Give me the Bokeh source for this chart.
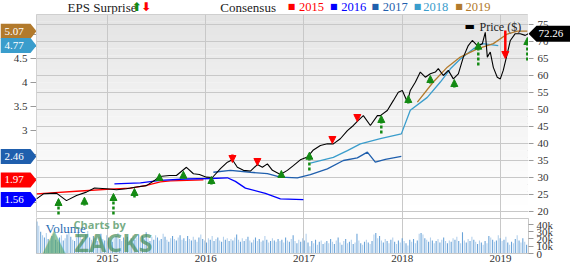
import pandas as pd
from bokeh.plotting import figure
from bokeh.models import (Range1d, FixedTicker, Label, Arrow, NormalHead,
                          ColumnDataSource, BoxAnnotation)
from bokeh.layouts import column, row
from bokeh.core.properties import value
from bokeh.embed import file_html
from bokeh.resources import INLINE

SERIF = "Liberation Serif"

# ---------------- data ----------------
years = [2015, 2016, 2017, 2018, 2019]
price_ticks = [20, 25, 30, 35, 40, 45, 50, 55, 60, 65, 70, 75]
eps_ticks = [1.5, 2, 2.5, 3, 3.5, 4, 4.5, 5]
eps_tick_labels = ["1.5", "2", "2.5", "3", "3.5", "4", "4.5", "5"]
vol_ticks = [0, 10, 20, 30, 40]

price_t = [2014.278, 2014.349, 2014.481, 2014.583, 2014.685, 2014.786, 2014.868, 2014.990,
           2015.092, 2015.193, 2015.295, 2015.397, 2015.478, 2015.529, 2015.631, 2015.702,
           2015.804, 2015.875, 2015.936, 2016.007, 2016.068, 2016.150, 2016.221, 2016.272,
           2016.322, 2016.384, 2016.455, 2016.526, 2016.577, 2016.628, 2016.679, 2016.760,
           2016.831, 2016.892, 2016.963, 2017.035, 2017.096, 2017.167, 2017.238, 2017.299,
           2017.370, 2017.442, 2017.503, 2017.553, 2017.604, 2017.676, 2017.747, 2017.777,
           2017.848, 2017.909, 2017.960, 2018.001, 2018.052, 2018.082, 2018.133, 2018.184,
           2018.235, 2018.286, 2018.337, 2018.367, 2018.418, 2018.469, 2018.520, 2018.571,
           2018.622, 2018.672, 2018.713, 2018.764, 2018.815, 2018.845, 2018.866, 2018.896,
           2018.927, 2018.967, 2018.998, 2019.028, 2019.069, 2019.100, 2019.150, 2019.201,
           2019.252, 2019.283]
price = [23.7, 25.2, 25.4, 23.2, 24.7, 25.7, 26.9, 26.7,
         26.4, 26.7, 27.2, 27.6, 29.1, 30.3, 30.6, 30.6,
         33.0, 31.1, 30.9, 30.1, 30.0, 32.6, 34.5, 35.2,
         33.0, 32.1, 31.9, 33.8, 33.0, 34.0, 32.1, 30.9,
         32.1, 33.5, 35.2, 36.0, 38.1, 39.4, 39.9, 39.9,
         41.4, 43.8, 45.3, 46.8, 48.2, 45.3, 48.2, 48.2,
         49.7, 52.6, 55.1, 55.6, 52.2, 55.6, 58.0, 61.0,
         59.5, 60.5, 61.0, 62.0, 60.0, 61.5, 59.0, 60.5,
         65.4, 68.8, 70.3, 68.8, 69.3, 72.7, 65.4, 66.9,
         62.4, 59.5, 59.0, 61.5, 66.4, 70.3, 72.3, 72.3,
         71.8, 72.26]

c2015_t = [2014.278, 2014.725, 2015.031, 2015.234, 2015.387, 2015.539, 2015.641, 2015.977]
c2015 = [1.68, 1.74, 1.78, 1.80, 1.85, 1.93, 1.95, 1.97]
c2016_t = [2015.071, 2015.336, 2015.539, 2015.793, 2016.048, 2016.221, 2016.302, 2016.404,
           2016.607, 2016.760, 2016.994]
c2016 = [1.89, 1.91, 1.96, 1.99, 2.00, 2.015, 1.94, 1.80, 1.69, 1.575, 1.56]
c2017_t = [2016.078, 2016.251, 2016.455, 2016.628, 2016.760, 2016.933, 2017.065, 2017.238,
           2017.401, 2017.543, 2017.645, 2017.726, 2017.828, 2017.991]
c2017 = [2.13, 2.17, 2.13, 2.10, 2.03, 2.015, 2.08, 2.20, 2.375, 2.43, 2.55, 2.34, 2.40, 2.46]
c2018_t = [2017.065, 2017.299, 2017.442, 2017.574, 2017.777, 2017.991, 2018.082, 2018.255,
           2018.388, 2018.490, 2018.591, 2018.723, 2018.815, 2018.896, 2018.977]
c2018 = [2.32, 2.44, 2.58, 2.72, 2.83, 2.93, 3.42, 3.69, 4.01, 4.285, 4.49, 4.70, 4.81, 4.79, 4.77]
c2019_t = [2018.154, 2018.316, 2018.459, 2018.591, 2018.764, 2018.927, 2019.069, 2019.171, 2019.273]
c2019 = [3.59, 4.01, 4.32, 4.53, 4.70, 4.81, 5.01, 5.07, 5.07]

tag_vals = [5.07, 4.77, 2.46, 1.97, 1.56]
last_price = 72.26

# EPS surprise arrows (price units)
up_t = [2014.502, 2014.766, 2015.061, 2015.275, 2015.529, 2015.773, 2016.058, 2016.770,
        2017.055, 2017.787, 2018.062, 2018.286, 2018.530, 2018.774, 2019.273]
up_head = [23.82, 24.21, 25.29, 26.76, 31.18, 31.85, 30.29, 32.06,
           37.44, 48.24, 54.12, 60.0, 58.82, 69.8, 71.18]
up_tail = [19.12, 21.76, 19.12, 24.12, 29.12, 30.0, 27.94, 30.0,
           32.06, 42.94, 51.76, 57.65, 56.47, 62.94, 64.41]
down_t = [2016.272, 2016.526, 2017.289, 2017.543, 2019.049]
down_top = [36.76, 35.59, 41.76, 48.53, 73.24]
down_tip = [34.41, 33.53, 40.0, 46.47, 65.0]

# weekly volume (thousands), from 2014-04-14
vol = [44, 38, 30, 25, 22, 28, 20, 18, 24, 27, 19, 16, 22, 25, 18, 21, 26, 30, 23, 19, 17, 22, 28, 24, 20, 18,
       26, 31, 22, 19, 24, 21, 17, 23, 27, 20, 18, 25, 22, 19, 16, 21, 24, 28, 20, 17, 22, 19, 23, 18, 21, 25,
       19, 22, 26, 18, 24, 20, 29, 21, 17, 23, 19, 25, 22, 18, 20, 27, 23, 19, 16, 21, 24, 20, 18, 22, 25, 19,
       21, 17, 24, 20, 18, 23, 19, 16, 22, 26, 20, 18, 15, 21, 19, 24, 17, 20, 22, 18, 16, 23, 19, 21, 17, 20,
       18, 22, 26, 19, 16, 21, 17, 20, 23, 18, 15, 19, 22, 17, 20, 16, 18, 24, 19, 15, 17, 21, 18, 16, 20, 17,
       19, 15, 22, 18, 16, 20, 25, 17, 14, 19, 16, 21, 18, 27, 15, 10, 17, 14, 19, 12, 16, 18, 13, 15, 17, 14,
       20, 16, 13, 18, 22, 15, 12, 17, 20, 14, 16, 19, 13, 15, 27, 18, 14, 12, 16, 19, 15, 13, 17, 26, 28, 21,
       24, 18, 15, 20, 17, 14, 19, 22, 16, 13, 18, 15, 21, 17, 14, 11, 19, 16, 20, 14, 18, 27, 28, 26, 21, 19,
       16, 22, 18, 14, 17, 20, 15, 19, 22, 17, 14, 18, 16, 21, 19, 23, 17, 14, 29, 18, 15, 20, 17, 23, 19, 16,
       13, 18, 15, 12, 17, 14, 24, 22, 19, 16, 18, 25, 21, 17, 19, 23, 15, 12, 16, 14, 20, 25, 18, 15, 21, 16,
       12, 14]

# ---------------- styling / layout constants ----------------
X0, X1 = 2014.278, 2019.285
PMIN, PMAX = 17.941, 77.941      # price scale: 5 units = 17 px
EMIN, EMAX = 1.1667, 5.4167      # EPS scale: 0.5 units = 24 px
GRID = "#c8c8c8"
TICK = "#999999"
LBL = "#333333"
GREEN = "#138a13"
RED = "#ff0000"
C15, C16, C17, C18, C19 = "#ff0000", "#0000ff", "#1f5fad", "#3a9dcc", "#b27a2c"
tag_colors = [C19, C18, C17, C15, C16]
LEFT_W, RIGHT_W, MAIN_W = 36, 42, 492
HDR_H, MAIN_H, VOL_H = 14, 204, 46


def bare(width, height, xr, yr):
    return figure(width=width, height=height, x_range=xr, y_range=yr,
                  x_axis_location=None, y_axis_location=None,
                  output_backend="svg", toolbar_location=None,
                  min_border_left=0, min_border_right=0, min_border_top=0, min_border_bottom=0,
                  background_fill_color="white", border_fill_color="white",
                  outline_line_color=None)


# ---------------- header ----------------
h = bare(570, HDR_H, Range1d(0, 570), Range1d(0, HDR_H))
h.grid.visible = False


def hl(text, px, color="#222222", font=SERIF, size="13px", style="normal", py=7.5):
    h.add_layout(Label(x=px, y=py, text=text, text_baseline="middle", text_align="left",
                       text_color=color, text_font=font, text_font_size=size,
                       text_font_style=style))


hl("EPS Surprise", 36)
hl("⬆", 110, GREEN, "DejaVu Sans", "12px", "bold")
hl("⬇", 121, RED, "DejaVu Sans", "12px", "bold")
hl("Consensus", 213)
for sq_px, yr_px, col, yr in zip([291, 340, 388, 437, 485], [304, 353, 401, 448, 497],
                                 [C15, C16, C17, C18, C19], years):
    hl("■", sq_px, col, "DejaVu Sans", "8px", py=8)
    hl(str(yr), yr_px, col, SERIF, "12.5px", py=8)

# ---------------- main price panel ----------------
p = bare(MAIN_W, MAIN_H, Range1d(X0, X1), Range1d(PMIN, PMAX))
p.outline_line_color = GRID
p.extra_y_ranges = {"eps": Range1d(EMIN, EMAX)}

nb = 30
for i in range(nb):
    lo = PMIN + (PMAX - PMIN) * i / nb
    hi = PMIN + (PMAX - PMIN) * (i + 1) / nb
    g = int(round(255 - 27 * (i / (nb - 1)) ** 1.2))
    p.add_layout(BoxAnnotation(bottom=lo, top=hi, fill_color=f"#{g:02x}{g:02x}{g:02x}",
                               fill_alpha=1, line_color=None, level="image"))

p.xgrid.ticker = FixedTicker(ticks=years)
p.ygrid.ticker = FixedTicker(ticks=price_ticks)
p.xgrid.grid_line_color = GRID
p.ygrid.grid_line_color = GRID

p.line(c2015_t, c2015, y_range_name="eps", line_color=C15, line_width=1.3)
p.line(c2016_t, c2016, y_range_name="eps", line_color=C16, line_width=1.3)
p.line(c2017_t, c2017, y_range_name="eps", line_color=C17, line_width=1.3)
p.line(c2018_t, c2018, y_range_name="eps", line_color=C18, line_width=1.3)
p.line(c2019_t, c2019, y_range_name="eps", line_color=C19, line_width=1.3)
p.line(price_t, price, line_color="black", line_width=1.1)

up_src = ColumnDataSource(dict(x=up_t, y0=up_tail, y1=up_head))
p.add_layout(Arrow(end=NormalHead(size=7, fill_color=GREEN, line_color=GREEN),
                   x_start="x", y_start="y0", x_end="x", y_end="y1", source=up_src,
                   line_color=GREEN, line_width=2.5, line_dash="3 2"))
dn_src = ColumnDataSource(dict(x=down_t, y0=down_top, y1=down_tip))
p.add_layout(Arrow(end=NormalHead(size=7, fill_color=RED, line_color=RED),
                   x_start="x", y_start="y0", x_end="x", y_end="y1", source=dn_src,
                   line_color=RED, line_width=2.5))

p.add_layout(Label(x=X0, y=PMAX, x_offset=428, y_offset=-12, text="▬",
                   text_baseline="middle", text_color="black", text_font="DejaVu Sans",
                   text_font_size="11px"))
p.add_layout(Label(x=X0, y=PMAX, x_offset=443, y_offset=-12, text="Price ($)",
                   text_baseline="middle", text_color="#222222", text_font=SERIF,
                   text_font_size="12px"))

# ---------------- left EPS scale with consensus tags ----------------
lf = bare(LEFT_W, MAIN_H, Range1d(0, LEFT_W), Range1d(EMIN, EMAX))
lf.grid.visible = False
lf.segment(x0=30, y0=eps_ticks, x1=36, y1=eps_ticks, line_color=TICK, line_width=1)
lf.text(x=27, y=eps_ticks, text=eps_tick_labels, text_align="right", text_baseline="middle",
        text_font=value(SERIF), text_font_size="11px", text_color=LBL)
hh = 7.5 / MAIN_H * (EMAX - EMIN)
lf.patches(xs=[[0, 30, 36, 30, 0] for _ in tag_vals],
           ys=[[t + hh, t + hh, t, t - hh, t - hh] for t in tag_vals],
           fill_color=tag_colors, line_color=None)
lf.text(x=4, y=tag_vals, text=[f"{t:.2f}" for t in tag_vals], text_align="left",
        text_baseline="middle", text_font=value(SERIF), text_font_size="11px",
        text_color="white")

# ---------------- right price scale with last-price tag ----------------
rf = bare(RIGHT_W, MAIN_H, Range1d(0, RIGHT_W), Range1d(PMIN, PMAX))
rf.grid.visible = False
rf.segment(x0=0, y0=price_ticks, x1=5, y1=price_ticks, line_color=TICK, line_width=1)
rf.text(x=9, y=price_ticks, text=[str(t) for t in price_ticks], text_align="left",
        text_baseline="middle", text_font=value(SERIF), text_font_size="11px", text_color=LBL)
ph = 8 / MAIN_H * (PMAX - PMIN)
rf.patch(x=[0, 8, 42, 42, 8], y=[last_price, last_price + ph, last_price + ph,
                                 last_price - ph, last_price - ph],
         fill_color="black", line_color=None)
rf.text(x=[10], y=[last_price], text=[f"{last_price:.2f}"], text_align="left",
        text_baseline="middle", text_font=value(SERIF), text_font_size="11px",
        text_color="white")

# ---------------- volume panel ----------------
dates = pd.date_range("2014-04-14", periods=len(vol), freq="7D")
vol_t = list(dates.year + (dates.dayofyear - 1) / 365.25)
vol_colors = ["#6aa3d8" if i % 2 == 0 else "#b3d0ec" for i in range(len(vol))]

v = figure(width=570, height=VOL_H, x_range=p.x_range, y_range=Range1d(0, 48),
           x_axis_location="below", y_axis_location="right",
           output_backend="svg", toolbar_location=None,
           min_border_left=36, min_border_right=42, min_border_top=0, min_border_bottom=11,
           background_fill_color="white", border_fill_color="white", outline_line_color=GRID)
v.xgrid.ticker = FixedTicker(ticks=years)
v.xgrid.grid_line_color = GRID
v.ygrid.grid_line_color = None
v.vbar(x=vol_t, top=vol, width=0.011, fill_color=vol_colors, line_color=None)

vy = v.yaxis[0]
vy.ticker = FixedTicker(ticks=vol_ticks)
vy.major_label_overrides = {0: "0", 10: "10k", 20: "20k", 30: "30k", 40: "40k"}
vy.axis_line_color = GRID
vy.major_tick_line_color = TICK
vy.major_tick_out = 5
vy.major_tick_in = 0
vy.minor_tick_line_color = None
vy.major_label_text_font = SERIF
vy.major_label_text_font_size = "11px"
vy.major_label_text_color = LBL
vy.major_label_standoff = 3

vx = v.xaxis[0]
vx.ticker = FixedTicker(ticks=years)
vx.axis_line_color = GRID
vx.major_tick_out = 0
vx.major_tick_in = 0
vx.minor_tick_line_color = None
vx.major_label_text_font = SERIF
vx.major_label_text_font_size = "11px"
vx.major_label_text_color = LBL
vx.major_label_standoff = 1

v.add_layout(Label(x=X0, y=48, x_offset=9, y_offset=-10, text="Volume", text_baseline="middle",
                   text_color="#2b6db3", text_font=SERIF, text_font_size="13px"))
v.add_layout(Label(x=X0, y=48, x_offset=3, y_offset=-23, text="▲", text_baseline="middle",
                   text_color="#4aa060", text_alpha=0.6, text_font="DejaVu Sans",
                   text_font_size="38px"))
v.add_layout(Label(x=X0, y=48, x_offset=37, y_offset=-6, text="Charts by", text_baseline="middle",
                   text_color="#5e9e70", text_alpha=0.85, text_font="Open Sans",
                   text_font_size="11px", text_font_style="bold"))
v.add_layout(Label(x=X0, y=48, x_offset=38, y_offset=-23, text="ZACKS", text_baseline="middle",
                   text_color="#3f8a55", text_alpha=0.7, text_font="Open Sans",
                   text_font_size="25px", text_font_style="bold"))

layout = column(h, row(lf, p, rf), v)
open("out.html", "w").write(file_html(layout, INLINE))
